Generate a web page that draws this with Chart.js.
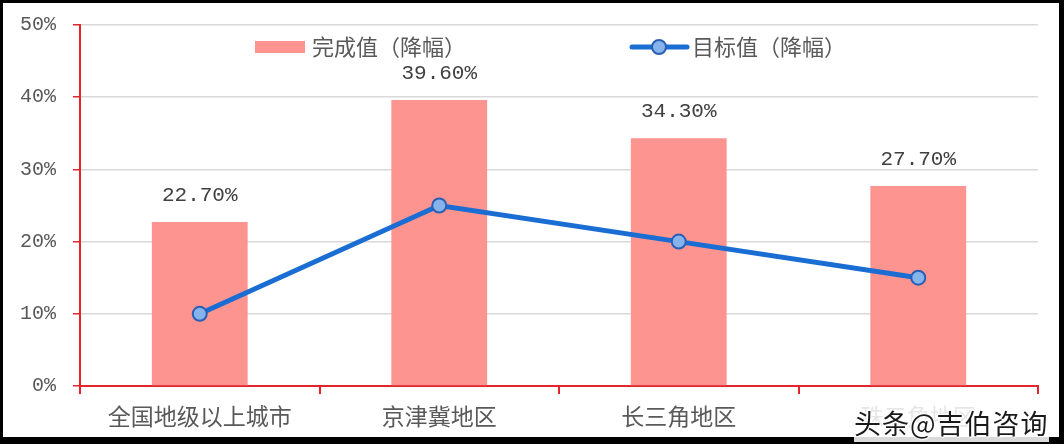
<!DOCTYPE html>
<html>
<head>
<meta charset="utf-8">
<script src="https://cdn.jsdelivr.net/npm/chart.js@4"></script>
<style>
  body { margin: 0; background: #000; }
  #wrap { position: absolute; left: 3px; top: 3px; width: 1056px; height: 434px; background: #fff; }
  #mark {
    position: absolute; left: 854px; top: 402px; line-height: 36px; padding-top: 1px;
    font: 27px "Noto Sans CJK SC", sans-serif; color: #1a1a1a; letter-spacing: 1px;
    background: rgba(255,255,255,0.85);
    text-shadow: 0 0 3px #fff, 0 0 3px #fff, 1px 1px 0 #fff, -1px -1px 0 #fff;
    white-space: nowrap;
  }
</style>
</head>
<body>
<div id="wrap"><canvas id="grafico" width="1056" height="434"></canvas></div>
<div id="mark">头条@吉伯咨询</div>
<script>
const categorias = ["全国地级以上城市", "京津冀地区", "长三角地区", "珠三角地区"];
const completado = [22.7, 39.6, 34.3, 27.7];
const objetivo = [10, 25, 20, 15];
const ticksY = [0, 10, 20, 30, 40, 50];
const nombres = ["完成值（降幅）", "目标值（降幅）"];

const rojo = "#e3262b";
const colorBarra = "#fd948f";
const colorLinea = "#1a6dd2";
const cjk = '"Noto Sans CJK SC", sans-serif';
const mono = '"Liberation Mono", monospace';

// etiquetas encima de las barras
const etiquetas = {
  id: "etiquetas",
  afterDatasetsDraw(chart) {
    const ctx = chart.ctx;
    const meta = chart.getDatasetMeta(1);
    ctx.save();
    ctx.font = "21px " + mono;
    ctx.fillStyle = "#404040";
    ctx.textAlign = "center";
    ctx.textBaseline = "middle";
    meta.data.forEach((bar, i) => {
      ctx.fillText(completado[i].toFixed(2) + "%", bar.x, bar.y - 27);
    });
    ctx.restore();
  }
};

// leyenda dentro del area
const leyenda = {
  id: "leyenda",
  afterDraw(chart) {
    const ctx = chart.ctx;
    const y = 44;
    ctx.save();
    ctx.fillStyle = colorBarra;
    ctx.fillRect(252, y - 6, 50, 12);
    ctx.strokeStyle = colorLinea;
    ctx.lineWidth = 5;
    ctx.lineCap = "round";
    ctx.beginPath();
    ctx.moveTo(629, y);
    ctx.lineTo(684, y);
    ctx.stroke();
    ctx.beginPath();
    ctx.arc(656, y, 7, 0, Math.PI * 2);
    ctx.fillStyle = "#86b3ec";
    ctx.fill();
    ctx.lineWidth = 2;
    ctx.strokeStyle = "#2a5fb5";
    ctx.stroke();
    ctx.font = "22px " + cjk;
    ctx.fillStyle = "#595959";
    ctx.textBaseline = "middle";
    ctx.fillText(nombres[0], 309, y);
    ctx.fillText(nombres[1], 689, y);
    ctx.restore();
  }
};

const canvas = document.getElementById("grafico");

new Chart(canvas, {
  type: "bar",
  data: {
    labels: categorias,
    datasets: [
      {
        type: "line",
        label: nombres[1],
        data: objetivo,
        borderColor: colorLinea,
        borderWidth: 5,
        pointRadius: 7,
        pointBackgroundColor: "#86b3ec",
        pointBorderColor: "#2a5fb5",
        pointBorderWidth: 2,
        tension: 0,
        order: 1
      },
      {
        label: nombres[0],
        data: completado,
        backgroundColor: colorBarra,
        categoryPercentage: 1,
        barPercentage: 0.4,
        order: 2
      }
    ]
  },
  options: {
    responsive: false,
    animation: false,
    layout: { padding: { top: 22, right: 21, left: 0, bottom: 0 } },
    plugins: { legend: { display: false }, tooltip: { enabled: false } },
    scales: {
      x: {
        afterFit: s => { s.height = 51; },
        border: { color: rojo, width: 2 },
        grid: { offset: true, drawOnChartArea: false, drawTicks: true, tickLength: 8, tickColor: rojo, lineWidth: 2 },
        ticks: { color: "#595959", font: { family: cjk, size: 23 }, padding: 8, maxRotation: 0 }
      },
      y: {
        min: 0,
        max: 50,
        afterFit: s => { s.width = 77; s.paddingTop = 0; s.paddingBottom = 0; },
        afterBuildTicks: s => { s.ticks = ticksY.map(v => ({ value: v })); },
        border: { color: rojo, width: 2 },
        grid: { color: "#d9d9d9", lineWidth: 1.5, tickColor: rojo, tickLength: 7 },
        ticks: {
          color: "#595959",
          font: { family: mono, size: 20 },
          padding: 17,
          callback: v => v + "%"
        }
      }
    }
  },
  plugins: [etiquetas, leyenda]
});
</script>
</body>
</html>
